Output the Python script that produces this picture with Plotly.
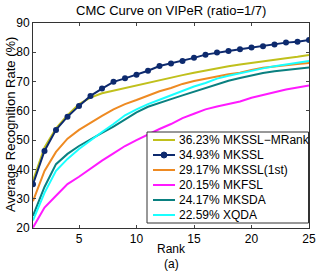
import plotly.graph_objects as go

ranks = list(range(1, 26))
mkssl_mrank = [36.23, 47.5, 54.0, 58.5, 62.3, 64.5, 66.0, 66.9, 67.9, 68.8, 69.7, 70.6, 71.5, 72.2, 73.0,
               73.8, 74.5, 75.2, 75.8, 76.4, 77.0, 77.5, 78.0, 78.5, 79.1]
mkssl = [34.93, 46.3, 53.5, 58.0, 61.7, 65.1, 67.6, 69.9, 71.1, 72.3, 73.7, 75.3, 76.2, 77.0, 78.1,
         79.2, 79.9, 80.4, 81.0, 81.6, 82.1, 82.7, 83.3, 83.6, 84.2]
mkssl_1st = [29.17, 39.5, 46.0, 50.5, 53.5, 56.0, 58.3, 60.5, 62.3, 63.7, 65.3, 66.7, 67.8, 69.2, 70.2,
             71.0, 71.8, 72.5, 73.0, 74.0, 74.7, 75.2, 75.6, 76.0, 76.3]
mkfsl = [20.15, 27.0, 31.0, 35.0, 37.5, 40.3, 43.0, 45.5, 48.0, 50.0, 52.0, 53.8, 55.5, 57.5, 59.0,
         60.5, 61.5, 62.3, 63.2, 64.5, 65.5, 66.5, 67.3, 68.0, 68.7]
mksda = [24.17, 34.0, 41.8, 45.3, 48.0, 50.3, 52.5, 54.6, 57.0, 59.5, 61.4, 62.8, 64.0, 65.3, 66.6,
         67.8, 69.1, 70.3, 71.2, 72.1, 72.9, 73.5, 74.0, 74.4, 74.8]
xqda = [22.59, 32.0, 39.5, 43.6, 47.0, 50.0, 52.8, 55.5, 58.5, 60.5, 62.3, 63.8, 65.3, 66.8, 68.3,
        69.5, 71.0, 72.0, 72.9, 73.8, 74.5, 75.2, 75.9, 76.4, 77.0]

names = ["36.23% MKSSL\u2212MRank", "34.93% MKSSL", "29.17% MKSSL(1st)", "20.15% MKFSL",
         "24.17% MKSDA", "22.59% XQDA"]
series = [mkssl_mrank, mkssl, mkssl_1st, mkfsl, mksda, xqda]
colors = ["#c0c01c", "#0d2a6e", "#ee8a22", "#ff1aff", "#0a8080", "#1affff"]

FONT = "Liberation Sans, Arial, sans-serif"

W, H = 318, 272
ML, MR, MT, MB = 33, 9, 23, 44
PW, PH = W - ML - MR, H - MT - MB


def px(x):
    return (x - ML) / PW


def py(y):
    return (H - MB - y) / PH


fig = go.Figure()
for i, (nm, ys, c) in enumerate(zip(names, series, colors)):
    if i == 1:
        fig.add_trace(go.Scatter(x=ranks, y=ys, name=nm, mode="lines+markers",
                                 line=dict(color=c, width=2),
                                 marker=dict(color=c, size=6, symbol="circle")))
    else:
        fig.add_trace(go.Scatter(x=ranks, y=ys, name=nm, mode="lines",
                                 line=dict(color=c, width=2)))

# Legend (MATLAB-style compact box)
shapes = [dict(type="rect", xref="paper", yref="paper", x0=px(147), x1=px(308.5),
               y0=py(223), y1=py(132), line=dict(color="#333333", width=1),
               fillcolor="white", layer="above")]
annotations = []
for i, (nm, c) in enumerate(zip(names, colors)):
    yc = 140 + i * 15
    shapes.append(dict(type="line", xref="paper", yref="paper", x0=px(153), x1=px(175),
                       y0=py(yc), y1=py(yc), line=dict(color=c, width=2), layer="above"))
    if i == 1:
        shapes.append(dict(type="circle", xref="paper", yref="paper", x0=px(161), x1=px(167),
                           y0=py(yc + 3), y1=py(yc - 3), line=dict(color=c, width=1),
                           fillcolor=c, layer="above"))
    annotations.append(dict(text=nm, xref="paper", yref="paper", x=px(177), y=py(yc),
                            xanchor="left", yanchor="middle", showarrow=False,
                            font=dict(family=FONT, size=12, color="black")))

annotations += [
    dict(text="CMC Curve on VIPeR (ratio=1/7)", xref="paper", yref="paper",
         x=0.5, y=py(11), xanchor="center", yanchor="middle", showarrow=False,
         font=dict(family=FONT, size=13)),
    dict(text="Rank", xref="paper", yref="paper", x=0.5, y=py(249),
         xanchor="center", yanchor="middle", showarrow=False, font=dict(family=FONT, size=12)),
    dict(text="(a)", xref="paper", yref="paper", x=0.5, y=py(263.5),
         xanchor="center", yanchor="middle", showarrow=False, font=dict(family=FONT, size=12)),
    dict(text="Average Recognition Rate (%)", xref="paper", yref="paper", x=px(10), y=py(125),
         xanchor="center", yanchor="middle", textangle=-90, showarrow=False,
         font=dict(family=FONT, size=13)),
]

fig.update_layout(
    width=W, height=H,
    margin=dict(l=ML, r=MR, t=MT, b=MB, autoexpand=False),
    paper_bgcolor="white", plot_bgcolor="white",
    font=dict(family=FONT, size=12, color="black"),
    showlegend=False,
    shapes=shapes,
    annotations=annotations,
)
fig.update_xaxes(range=[1, 25], tickvals=[5, 10, 15, 20, 25], ticks="inside", ticklen=3,
                 showline=True, linecolor="#333333", linewidth=1, mirror="allticks",
                 showgrid=False, zeroline=False, tickfont=dict(size=12), automargin=False)
fig.update_yaxes(range=[20, 90], dtick=10, ticks="inside", ticklen=3,
                 showline=True, linecolor="#333333", linewidth=1, mirror="allticks",
                 showgrid=False, zeroline=False, tickfont=dict(size=12), automargin=False)

fig.write_html("out.html", config={"displayModeBar": False},
               post_script="document.body.style.margin='0';document.body.style.padding='0';")
